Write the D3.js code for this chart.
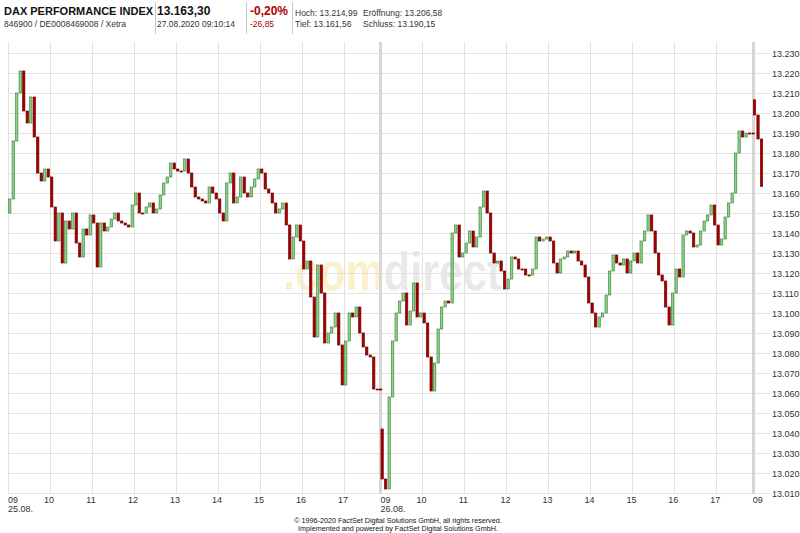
<!DOCTYPE html>
<html><head><meta charset="utf-8">
<script src="https://cdn.jsdelivr.net/npm/d3@7"></script>
<style>body{margin:0;background:#fff}svg{display:block;font-family:"Liberation Sans",Arial,sans-serif}</style>
</head><body><svg id="c" width="800" height="533"></svg>
<script>
// ---- data ----
const dayLabels = ["25.08.", "26.08.", ""];
const hourLabels = ["09", "10", "11", "12", "13", "14", "15", "16", "17"];
const dayOpens = [13150, 13042, 13206.58];
const day1Closes = [13157,13186,13210,13221,13201,13195,13208,13188,13170,13166,13172,13168,
  13153,13136,13150,13125,13146,13142,13150,13135,13128,13142,13139,13149,
  13145,13123,13145,13141,13143,13147,13150,13146,13145,13144,13143,13154,
  13160,13150,13150,13153,13155,13150,13152,13159,13165,13168,13175,13172,
  13171,13171,13177,13170,13163,13158,13157,13156,13155,13163,13160,13157,
  13150,13146,13165,13170,13155,13158,13168,13160,13158,13163,13167,13172,
  13170,13162,13160,13155,13150,13152,13155,13144,13127,13138,13144,13136,
  13122,13126,13108,13088,13124,13110,13085,13090,13093,13100,13084,13064,
  13086,13100,13098,13103,13090,13083,13079,13078,13062,13062,13062];
const day2Closes = [13017,13012,13058,13086,13100,13106,13110,13094,13101,13115,13098,13100,
  13095,13078,13061,13075,13092,13103,13106,13105,13140,13144,13128,13130,
  13135,13141,13133,13138,13153,13161,13150,13130,13125,13126,13121,13112,
  13117,13128,13127,13122,13122,13119,13119,13122,13138,13136,13137,13138,
  13136,13125,13120,13127,13128,13131,13130,13131,13126,13124,13118,13105,
  13100,13093,13098,13100,13109,13121,13129,13125,13124,13127,13120,13126,
  13130,13125,13136,13141,13149,13141,13130,13119,13116,13103,13094,13110,
  13122,13118,13139,13141,13140,13133,13134,13141,13146,13149,13154,13144,
  13134,13137,13148,13155,13160,13180,13191,13188,13190,13190,13190];
const day3Closes = [13199, 13187, 13163.3];
const yTicks = [13010,13020,13030,13040,13050,13060,13070,13080,13090,13100,13110,13120,
  13130,13140,13150,13160,13170,13180,13190,13200,13210,13220,13230];
const headerTitle = ["DAX PERFORMANCE INDEX", "846900 / DE0008469008 / Xetra"];
const headerLast = ["13.163,30", "27.08.2020 09:10:14"];
const headerChange = ["-0,20%", "-26,85"];
const headerStats = [["Hoch: 13.214,99", "Eröffnung: 13.206,58"], ["Tief: 13.161,56", "Schluss: 13.190,15"]];
const footer = ["© 1996-2020 FactSet Digital Solutions GmbH, all rights reserved.",
  "Implemented and powered by FactSet Digital Solutions GmbH."];

// ---- layout ----
const plot = {l: 8, r: 770, t: 42, b: 494};
const SESSION = 532, STEP = 5;
const svg = d3.select("#c");
const x = d3.scaleLinear().domain([0, 2 * SESSION + 24.6]).range([plot.l, plot.r]);
const y = d3.scaleLinear().domain([13010, 13230]).range([493, 53]);
const de = d3.formatLocale({decimal: ",", thousands: ".", grouping: [3], currency: ["", "€"]});
const fmt = de.format(",");

// candles
const candles = [];
[day1Closes, day2Closes, day3Closes].forEach((arr, d) => {
  let prev = dayOpens[d];
  arr.forEach((c, i) => {
    candles.push({t: d * SESSION + i * STEP, o: prev, c: c});
    prev = c;
  });
});

// watermark (single text, two colours)
const wm = svg.append("text").attr("transform", "translate(283,290) scale(0.8,1)")
  .attr("font-weight", "bold").attr("font-size", 54);
wm.append("tspan").attr("fill", "#fbf0cc").text(".com");
wm.append("tspan").attr("fill", "#e9e9e9").text("direct");

// horizontal grid
svg.append("g").selectAll("line").data(yTicks).join("line")
  .attr("x1", plot.l).attr("x2", plot.r)
  .attr("y1", d => Math.round(y(d)) + 0.5).attr("y2", d => Math.round(y(d)) + 0.5)
  .attr("stroke", "#e2e2e2").attr("stroke-width", 1);

// vertical grid
const vLines = [];
for (let d = 0; d < 3; d++) {
  hourLabels.forEach((h, k) => {
    const t = d * SESSION + k * 60;
    if (x(t) <= plot.r) vLines.push({t, k, d, label: h});
  });
}
svg.append("g").selectAll("line").data(vLines).join("line")
  .attr("x1", v => Math.round(x(v.t)) + 0.5).attr("x2", v => Math.round(x(v.t)) + 0.5)
  .attr("y1", plot.t).attr("y2", plot.b)
  .attr("stroke", v => (v.k === 0 && v.d > 0) ? "#d6d6d6" : "#e2e2e2")
  .attr("stroke-width", v => (v.k === 0 && v.d > 0) ? 3 : 1);

// candles
const cw = 2.3;
svg.append("g").selectAll("rect").data(candles).join("rect")
  .attr("x", d => x(d.t + STEP / 2) - cw / 2)
  .attr("width", cw)
  .attr("y", d => Math.min(y(d.o), y(d.c)))
  .attr("height", d => Math.max(1, Math.abs(y(d.o) - y(d.c))))
  .attr("fill", d => d.c > d.o ? "#8fd08f" : "#a00000")
  .attr("stroke", d => d.c > d.o ? "#3c8c3c" : "#7a0000")
  .attr("stroke-width", 0.7);

// y labels
svg.append("g").selectAll("text").data(yTicks).join("text")
  .attr("x", 772).attr("y", d => y(d) + 3.5)
  .attr("font-size", 9).attr("fill", "#333").text(d => fmt(d));

// x labels
const xl = svg.append("g").attr("font-size", 9).attr("fill", "#333");
xl.selectAll("text.h").data(vLines).join("text").attr("class", "h")
  .attr("x", v => v.k === 0 ? x(v.t) : x(v.t) - 1)
  .attr("text-anchor", v => v.k === 0 ? "start" : "middle")
  .attr("y", 503).text(v => v.label);
xl.selectAll("text.d").data(dayLabels).join("text").attr("class", "d")
  .attr("x", (d, i) => x(i * SESSION)).attr("y", 512).text(d => d);

// header
const hd = svg.append("g").attr("fill", "#111");
hd.append("text").attr("x", 4).attr("y", 15).attr("font-size", 11).attr("font-weight", "bold").text(headerTitle[0]);
hd.append("text").attr("x", 4).attr("y", 27).attr("font-size", 8.5).attr("fill", "#333").text(headerTitle[1]);
hd.append("text").attr("x", 157).attr("y", 15).attr("font-size", 12).attr("font-weight", "bold").text(headerLast[0]);
hd.append("text").attr("x", 157).attr("y", 27).attr("font-size", 8.5).attr("fill", "#333").text(headerLast[1]);
hd.append("text").attr("x", 250).attr("y", 15).attr("font-size", 12).attr("font-weight", "bold").attr("fill", "#b00000").text(headerChange[0]);
hd.append("text").attr("x", 250).attr("y", 27).attr("font-size", 8.5).attr("fill", "#b00000").text(headerChange[1]);
headerStats.forEach((row, r) => {
  hd.append("text").attr("x", 295).attr("y", 16 + r * 11).attr("font-size", 8.5).attr("fill", "#333").text(row[0]);
  hd.append("text").attr("x", 363).attr("y", 16 + r * 11).attr("font-size", 8.5).attr("fill", "#333").text(row[1]);
});
[155, 246, 292].forEach(px => {
  svg.append("line").attr("x1", px + 0.5).attr("x2", px + 0.5).attr("y1", 2).attr("y2", 34)
    .attr("stroke", "#c8c8c8");
});

// footer
svg.append("g").attr("font-size", 7.2).attr("fill", "#111").attr("text-anchor", "middle")
  .selectAll("text").data(footer).join("text")
  .attr("x", 398).attr("y", (d, i) => 523 + i * 8).text(d => d);
</script></body></html>
